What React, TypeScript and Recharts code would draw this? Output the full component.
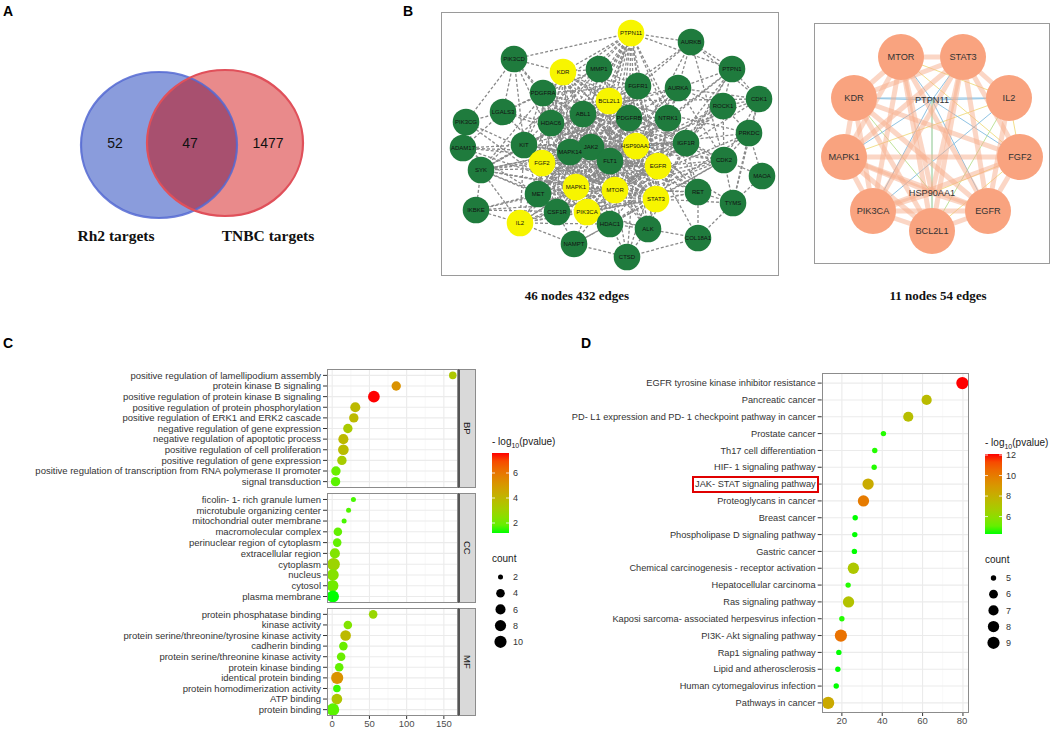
import React from 'react'
import { ScatterChart, Scatter, XAxis, YAxis, ReferenceLine } from 'recharts'

const SANS = '"Liberation Sans", Arial, sans-serif'
const SERIF = '"Liberation Serif", "Times New Roman", serif'

// ── A: Venn ──────────────────────────────────────────────────────────────────
const VENN_SETS = ['Rh2 targets', 'TNBC targets']
const VENN_COUNTS = [52, 47, 1477] // Rh2 only, shared, TNBC only

// ── B: PPI networks ──────────────────────────────────────────────────────────
const PPI_HUBS = ['PTPN11', 'KDR', 'BCL2L1', 'HSP90AA1', 'FGF2', 'EGFR', 'MAPK1', 'MTOR', 'STAT3', 'PIK3CA', 'IL2']
const PPI_EDGES = [
  'HSP90AA1: EGFR STAT3 MTOR PIK3CA MAPK1 BCL2L1 FGF2 KDR PTPN11 IL2 JAK2 FLT1 MAPK14 PDGFRB PDGFRA ABL1 KIT MET IGF1R NTRK1 CDK2 CDK1 AURKA AURKB HDAC1 HDAC6 ALK RET FGFR1 SYK CSF1R ROCK1 PRKDC PTPN1 MMP1 TYMS CTSD',
  'EGFR: STAT3 MTOR PIK3CA MAPK1 BCL2L1 FGF2 KDR PTPN11 IL2 JAK2 FLT1 MAPK14 PDGFRB PDGFRA ABL1 KIT MET IGF1R NTRK1 CDK2 AURKA HDAC1 HDAC6 ALK RET FGFR1 SYK CSF1R ROCK1 PTPN1 MMP1 LGALS3 ADAM17 COL18A1 CTSD',
  'STAT3: MTOR PIK3CA MAPK1 BCL2L1 FGF2 KDR PTPN11 IL2 JAK2 FLT1 MAPK14 PDGFRB PDGFRA ABL1 KIT MET IGF1R NTRK1 CDK2 HDAC1 HDAC6 ALK RET FGFR1 SYK CSF1R PTPN1 MMP1 IKBKE TYMS NAMPT',
  'MTOR: PIK3CA MAPK1 BCL2L1 FGF2 KDR PTPN11 IL2 JAK2 FLT1 MAPK14 PDGFRB ABL1 KIT MET IGF1R CDK2 AURKA HDAC1 HDAC6 ALK RET PIK3CD PIK3CG ROCK1 PRKDC NAMPT CTSD CDK1',
  'PIK3CA: MAPK1 BCL2L1 FGF2 KDR PTPN11 IL2 JAK2 FLT1 MAPK14 PDGFRB PDGFRA ABL1 KIT MET IGF1R NTRK1 CDK2 HDAC1 ALK RET FGFR1 SYK CSF1R PIK3CD PIK3CG IKBKE NAMPT',
  'MAPK1: BCL2L1 FGF2 KDR PTPN11 IL2 JAK2 FLT1 MAPK14 PDGFRB PDGFRA ABL1 KIT MET IGF1R NTRK1 CDK2 AURKA HDAC1 HDAC6 RET FGFR1 SYK CSF1R MMP1 ROCK1 LGALS3 ADAM17 IKBKE',
  'BCL2L1: FGF2 KDR PTPN11 IL2 JAK2 FLT1 MAPK14 ABL1 KIT MET IGF1R CDK2 CDK1 AURKA AURKB HDAC1 HDAC6 ALK FGFR1 SYK PRKDC',
  'FGF2: KDR PTPN11 IL2 JAK2 FLT1 MAPK14 PDGFRB PDGFRA ABL1 KIT MET IGF1R NTRK1 FGFR1 MMP1 CSF1R SYK',
  'KDR: PTPN11 JAK2 FLT1 MAPK14 PDGFRB PDGFRA ABL1 KIT MET IGF1R NTRK1 FGFR1 CSF1R SYK PIK3CD MMP1',
  'PTPN11: JAK2 FLT1 MAPK14 PDGFRB PDGFRA ABL1 KIT MET IGF1R NTRK1 FGFR1 CSF1R SYK AURKB PTPN1 PIK3CD',
  'IL2: JAK2 MAPK14 KIT CSF1R SYK IKBKE HDAC1 NAMPT',
  'JAK2: FLT1 MAPK14 PDGFRB PDGFRA ABL1 KIT MET IGF1R NTRK1 FGFR1 CSF1R SYK CDK2 HDAC1 HDAC6 ALK RET',
  'FLT1: MAPK14 PDGFRB PDGFRA ABL1 KIT MET IGF1R NTRK1 FGFR1 CSF1R ALK RET',
  'MAPK14: PDGFRB PDGFRA ABL1 KIT MET IGF1R HDAC6 SYK CSF1R MMP1 ADAM17',
  'PDGFRB: PDGFRA ABL1 KIT MET IGF1R NTRK1 FGFR1 CSF1R RET AURKA',
  'PDGFRA: ABL1 KIT MET FGFR1 CSF1R LGALS3 PIK3CD',
  'ABL1: KIT MET IGF1R NTRK1 FGFR1 CSF1R HDAC6 HDAC1 SYK CDK2 AURKA',
  'KIT: MET IGF1R CSF1R SYK FGFR1 ADAM17',
  'MET: IGF1R CSF1R FGFR1 SYK IKBKE ADAM17 ALK',
  'IGF1R: NTRK1 FGFR1 CDK2 RET ROCK1 PTPN1 ALK',
  'NTRK1: FGFR1 ALK RET AURKA PTPN1',
  'HDAC1: HDAC6 CDK2 NAMPT CTSD PRKDC ALK',
  'HDAC6: LGALS3 MMP1',
  'CDK2: CDK1 AURKA AURKB PRKDC TYMS MAOA ROCK1',
  'PIK3CD: PIK3CG LGALS3 KIT',
  'PIK3CG: ADAM17 LGALS3 SYK',
  'ADAM17: SYK LGALS3',
  'SYK: IKBKE',
  'NAMPT: CTSD CSF1R',
  'CTSD: ALK COL18A1',
  'COL18A1: ALK RET TYMS',
  'TYMS: RET PRKDC MAOA CDK1',
  'PRKDC: CDK1 ROCK1 MAOA',
  'CDK1: PTPN1 AURKB AURKA ROCK1',
  'PTPN1: AURKB ROCK1 AURKA',
  'AURKB: AURKA FGFR1',
  'ROCK1: AURKA',
  'MMP1: FGFR1 LGALS3',
]

const CORE_NODES = ['MTOR', 'STAT3', 'KDR', 'IL2', 'PTPN11', 'MAPK1', 'FGF2', 'PIK3CA', 'EGFR', 'BCL2L1', 'HSP90AA1']
const CORE_HIDDEN = ['PTPN11', 'HSP90AA1']
const CORE_STRONG = [
  'MTOR-STAT3', 'MTOR-KDR', 'MTOR-MAPK1', 'MTOR-PIK3CA', 'MTOR-EGFR', 'MTOR-BCL2L1', 'MTOR-HSP90AA1',
  'STAT3-KDR', 'STAT3-IL2', 'STAT3-MAPK1', 'STAT3-PIK3CA', 'STAT3-EGFR', 'STAT3-BCL2L1', 'STAT3-HSP90AA1', 'STAT3-FGF2',
  'KDR-MAPK1', 'KDR-FGF2', 'KDR-PIK3CA', 'KDR-EGFR', 'KDR-BCL2L1',
  'MAPK1-PIK3CA', 'MAPK1-EGFR', 'MAPK1-FGF2', 'MAPK1-BCL2L1', 'MAPK1-HSP90AA1',
  'FGF2-EGFR', 'FGF2-PIK3CA', 'PIK3CA-EGFR', 'PIK3CA-BCL2L1', 'PIK3CA-HSP90AA1',
  'EGFR-BCL2L1', 'EGFR-HSP90AA1', 'EGFR-IL2',
]
const CORE_WEAK = [
  'MTOR-IL2:y', 'MTOR-PTPN11:b', 'MTOR-FGF2:y', 'STAT3-PTPN11:b', 'KDR-IL2:b', 'KDR-PTPN11:b', 'KDR-HSP90AA1:g',
  'IL2-PTPN11:b', 'IL2-MAPK1:y', 'IL2-FGF2:y', 'IL2-PIK3CA:b', 'IL2-BCL2L1:g',
  'PTPN11-MAPK1:b', 'PTPN11-FGF2:b', 'PTPN11-PIK3CA:b', 'PTPN11-EGFR:b', 'PTPN11-BCL2L1:b', 'PTPN11-HSP90AA1:g',
  'FGF2-BCL2L1:y', 'FGF2-HSP90AA1:y', 'BCL2L1-HSP90AA1:g',
]

// ── C: GO enrichment ─────────────────────────────────────────────────────────
const BP_TERMS = [
  'positive regulation of lamellipodium assembly', 'protein kinase B signaling',
  'positive regulation of protein kinase B signaling', 'positive regulation of protein phosphorylation',
  'positive regulation of ERK1 and ERK2 cascade', 'negative regulation of gene expression',
  'negative regulation of apoptotic process', 'positive regulation of cell proliferation',
  'positive regulation of gene expression', 'positive regulation of transcription from RNA polymerase II promoter',
  'signal transduction',
]
const BP_X = [162, 86, 56, 31, 29, 21, 15, 15, 13, 5, 4.5]
const BP_P = [3.4, 5.2, 7.6, 3.9, 3.9, 3.3, 3.9, 3.8, 3.2, 1.9, 1.7]
const BP_COUNT = [3, 5, 9, 6, 5, 5, 6, 7, 5, 5, 5]

const CC_TERMS = [
  'ficolin- 1- rich granule lumen', 'microtubule organizing center', 'mitochondrial outer membrane',
  'macromolecular complex', 'perinuclear region of cytoplasm', 'extracellular region', 'cytoplasm',
  'nucleus', 'cytosol', 'plasma membrane',
]
const CC_X = [28.5, 22, 16, 7.6, 6.7, 3.6, 1.8, 0.9, 0.5, 0.9]
const CC_P = [1.5, 1.6, 1.5, 1.8, 1.8, 2.3, 2.9, 2.4, 2.0, 1.2]
const CC_COUNT = [2, 2, 2, 4, 4, 6, 11, 9, 9, 10]

const MF_TERMS = [
  'protein phosphatase binding', 'kinase activity', 'protein serine/threonine/tyrosine kinase activity',
  'cadherin binding', 'protein serine/threonine kinase activity', 'protein kinase binding',
  'identical protein binding', 'protein homodimerization activity', 'ATP binding', 'protein binding',
]
const MF_X = [55, 21, 18, 15, 12, 9.4, 6.7, 6.3, 6.3, 1]
const MF_P = [2.8, 2.3, 3.9, 1.9, 1.9, 1.8, 5.2, 1.4, 3.5, 1.7]
const MF_COUNT = [4, 4, 7, 4, 4, 4, 10, 3, 7, 11]

const GO_X_TICKS = [0, 50, 100, 150]
const GO_X_MINOR = [25, 75, 125]
const GO_P_BREAKS = [2, 4, 6]
const GO_COUNT_BREAKS = [2, 4, 6, 8, 10]

// ── D: KEGG enrichment ───────────────────────────────────────────────────────
const KEGG_TERMS = [
  'EGFR tyrosine kinase inhibitor resistance', 'Pancreatic cancer',
  'PD- L1 expression and PD- 1 checkpoint pathway in cancer', 'Prostate cancer', 'Th17 cell differentiation',
  'HIF- 1 signaling pathway', 'JAK- STAT signaling pathway', 'Proteoglycans in cancer', 'Breast cancer',
  'Phospholipase D signaling pathway', 'Gastric cancer', 'Chemical carcinogenesis -  receptor activation',
  'Hepatocellular carcinoma', 'Ras signaling pathway', 'Kaposi sarcoma- associated herpesvirus infection',
  'PI3K- Akt signaling pathway', 'Rap1 signaling pathway', 'Lipid and atherosclerosis',
  'Human cytomegalovirus infection', 'Pathways in cancer',
]
const KEGG_X = [79.7, 62, 52.9, 40.6, 36.3, 36, 33, 30.7, 26.6, 26.4, 26.2, 25.7, 23.1, 23.3, 20, 19.5, 18.5, 18, 17.2, 13.2]
const KEGG_P = [12.1, 7.5, 7.4, 4.4, 4.4, 4.4, 8.2, 10, 4.3, 4.3, 4.3, 7.0, 4.4, 7.2, 4.4, 10.3, 4.3, 4.3, 4.3, 8.3]
const KEGG_COUNT = [9, 7, 7, 5, 5, 5, 8, 8, 5, 5, 5, 8, 5, 8, 5, 9, 5, 5, 5, 9]
const KEGG_X_TICKS = [20, 40, 60, 80]
const KEGG_X_MINOR = [30, 50, 70]
const KEGG_P_BREAKS = [6, 8, 10, 12]
const KEGG_COUNT_BREAKS = [5, 6, 7, 8, 9]

// ── layout (px) ──────────────────────────────────────────────────────────────
const VENN_CENTRES = [[159, 145], [225, 143]]
const VENN_LABEL_X = [115, 190, 268]

const PPI_POS: Record<string, [number, number]> = {
  PTPN11: [190, 21], AURKB: [250, 30], PIK3CD: [73, 47], KDR: [122, 60], MMP1: [158, 57], PTPN1: [291, 57],
  FGFR1: [197, 74], AURKA: [237, 76], PDGFRA: [102, 81], BCL2L1: [168, 89], LGALS3: [62, 100], ABL1: [142, 102],
  PDGFRB: [188, 106], NTRK1: [227, 106], ROCK1: [282, 94], PIK3CG: [25, 110], HDAC6: [110, 111], JAK2: [150, 135],
  KIT: [83, 133], HSP90AA1: [195, 134], IGF1R: [245, 131], ADAM17: [22, 136], MAPK14: [129, 140], FGF2: [101, 151],
  FLT1: [169, 149], EGFR: [217, 154], CDK2: [283, 148], SYK: [40, 158], MAPK1: [135, 175], MTOR: [174, 178],
  MET: [97, 182], STAT3: [215, 187], RET: [257, 180], TYMS: [292, 191], CSF1R: [116, 200], PIK3CA: [146, 200],
  IKBKE: [35, 198], IL2: [79, 211], HDAC1: [169, 212], ALK: [207, 217], COL18A1: [257, 226], NAMPT: [133, 232],
  CTSD: [186, 245], CDK1: [318, 87], PRKDC: [308, 121], MAOA: [321, 164],
}
const CORE_POS: Record<string, [number, number]> = {
  MTOR: [87, 34], STAT3: [149, 34], KDR: [40, 75], IL2: [195, 75], PTPN11: [118, 77], MAPK1: [30, 134],
  FGF2: [206, 134], PIK3CA: [59, 188], EGFR: [174, 188], BCL2L1: [118, 208], HSP90AA1: [118, 170],
}

// ── colour / size scales (ggplot-like Lab gradient green → red) ──────────────
const hexRgb = (h: string) => [1, 3, 5].map((i) => parseInt(h.slice(i, i + 2), 16))
function rgbToLab(rgb: number[]) {
  const [r, g, b] = rgb.map((v) => { v /= 255; return v <= 0.04045 ? v / 12.92 : ((v + 0.055) / 1.055) ** 2.4 })
  const x = (0.4124 * r + 0.3576 * g + 0.1805 * b) / 0.95047
  const y = 0.2126 * r + 0.7152 * g + 0.0722 * b
  const z = (0.0193 * r + 0.1192 * g + 0.9505 * b) / 1.08883
  const f = (t: number) => (t > 0.008856 ? Math.cbrt(t) : 7.787 * t + 16 / 116)
  return [116 * f(y) - 16, 500 * (f(x) - f(y)), 200 * (f(y) - f(z))]
}
function labToHex([L, a, bb]: number[]) {
  const fy = (L + 16) / 116, fx = fy + a / 500, fz = fy - bb / 200
  const inv = (t: number) => (t ** 3 > 0.008856 ? t ** 3 : (t - 16 / 116) / 7.787)
  const x = inv(fx) * 0.95047, y = inv(fy), z = inv(fz) * 1.08883
  const lin = [
    3.2406 * x - 1.5372 * y - 0.4986 * z,
    -0.9689 * x + 1.8758 * y + 0.0415 * z,
    0.0557 * x - 0.204 * y + 1.057 * z,
  ]
  return '#' + lin.map((c) => {
    const v = c <= 0.0031308 ? 12.92 * c : 1.055 * Math.pow(Math.max(c, 0), 1 / 2.4) - 0.055
    return Math.round(Math.min(1, Math.max(0, v)) * 255).toString(16).padStart(2, '0')
  }).join('')
}
const LAB_LOW = rgbToLab(hexRgb('#00ff00'))
const LAB_HIGH = rgbToLab(hexRgb('#ff0000'))
const ramp = (t: number) => labToHex(LAB_LOW.map((v, i) => v + (LAB_HIGH[i] - v) * Math.min(1, Math.max(0, t))))

type Scale = { p: [number, number]; c: [number, number]; r: [number, number] }
const colourOf = (s: Scale, p: number) => ramp((p - s.p[0]) / (s.p[1] - s.p[0]))
const radiusOf = (s: Scale, c: number) => s.r[0] + (s.r[1] - s.r[0]) * Math.sqrt(Math.max(0, (c - s.c[0]) / (s.c[1] - s.c[0])))

const GO_ALL_P = [...BP_P, ...CC_P, ...MF_P]
const GO_ALL_C = [...BP_COUNT, ...CC_COUNT, ...MF_COUNT]
const GO_SCALE: Scale = { p: [Math.min(...GO_ALL_P), Math.max(...GO_ALL_P)], c: [Math.min(...GO_ALL_C), Math.max(...GO_ALL_C)], r: [2.5, 6.3] }
const KEGG_SCALE: Scale = { p: [Math.min(...KEGG_P), Math.max(...KEGG_P)], c: [Math.min(...KEGG_COUNT), Math.max(...KEGG_COUNT)], r: [2.7, 6.1] }

function parseEdges(rows: string[]) {
  const seen = new Set<string>()
  const out: [string, string][] = []
  rows.forEach((row) => {
    const [src, rest] = row.split(':')
    rest.trim().split(/\s+/).forEach((t) => {
      const key = [src.trim(), t].sort().join('|')
      if (!seen.has(key)) { seen.add(key); out.push([src.trim(), t]) }
    })
  })
  return out
}

// ── dot plot panel ───────────────────────────────────────────────────────────
interface DotProps {
  terms: string[]; xs: number[]; ps: number[]; counts: number[]
  left: number; plotLeft: number; plotRight: number; plotTop: number; plotBottom: number
  xDomain: [number, number]; xTicks: number[]; xMinor: number[]; axisH: number; scale: Scale; font: number
}
function DotPanel(d: DotProps) {
  const n = d.terms.length
  const data = d.terms.map((t, i) => ({ x: d.xs[i], y: i, p: d.ps[i], c: d.counts[i] }))
  const width = d.plotRight - d.left + 1
  const height = 1 + (d.plotBottom - d.plotTop) + d.axisH
  return (
    <>
      <div style={{ position: 'absolute', left: d.left, top: d.plotTop - 1 }}>
        <ScatterChart width={width} height={height} margin={{ top: 1, right: 1, bottom: 0, left: 0 }}>
          <XAxis
            type="number" dataKey="x" domain={d.xDomain} ticks={d.xTicks} allowDataOverflow
            hide={d.axisH === 0} height={d.axisH} axisLine={false} tickSize={3} tickMargin={1}
            tickLine={{ stroke: '#333' }}
            tick={(t: any) => (
              <text x={t.x} y={t.y} dy="0.71em" textAnchor="middle" fontSize={9.5} fill="#4d4d4d" fontFamily={SANS}>
                {t.payload.value}
              </text>
            )}
          />
          <YAxis
            type="number" dataKey="y" domain={[-0.6, n - 0.4]} reversed allowDataOverflow
            ticks={d.terms.map((_, i) => i)} interval={0}
            width={d.plotLeft - d.left} axisLine={false} tickSize={4} tickMargin={2}
            tickLine={{ stroke: '#333' }}
            tick={(t: any) => (
              <text x={t.x} y={t.y} dy="0.35em" textAnchor="end" fontSize={d.font} fill="#333" fontFamily={SANS}>
                {d.terms[t.payload.value]}
              </text>
            )}
          />
          {d.xMinor.map((v) => <ReferenceLine key={'m' + v} x={v} stroke="#f3f3f3" strokeWidth={0.6} />)}
          {d.xTicks.map((v) => <ReferenceLine key={'M' + v} x={v} stroke="#ebebeb" strokeWidth={1.1} />)}
          {d.terms.map((_, i) => <ReferenceLine key={'y' + i} y={i} stroke="#ebebeb" strokeWidth={1.1} />)}
          <Scatter
            data={data} isAnimationActive={false}
            shape={(p: any) => (
              <circle cx={p.cx} cy={p.cy} r={radiusOf(d.scale, p.payload.c)} fill={colourOf(d.scale, p.payload.p)} />
            )}
          />
        </ScatterChart>
      </div>
      <div style={{
        position: 'absolute', left: d.plotLeft, top: d.plotTop, width: d.plotRight - d.plotLeft,
        height: d.plotBottom - d.plotTop, border: '1px solid #8c8c8c', boxSizing: 'border-box', pointerEvents: 'none',
      }} />
    </>
  )
}

function Strip({ label, left, top, bottom }: { label: string; left: number; top: number; bottom: number }) {
  return (
    <div style={{
      position: 'absolute', left, top, width: 18, height: bottom - top, background: '#d9d9d9',
      borderLeft: '2px solid #555', borderTop: '1px solid #8c8c8c', borderRight: '1px solid #8c8c8c',
      borderBottom: '1px solid #8c8c8c', boxSizing: 'border-box', display: 'flex', alignItems: 'center',
      justifyContent: 'center',
    }}>
      <span style={{ writingMode: 'vertical-rl', fontFamily: SANS, fontSize: 9.5, color: '#1a1a1a' }}>{label}</span>
    </div>
  )
}

function Legends({ left, top, scale, pBreaks, cBreaks }: { left: number; top: number; scale: Scale; pBreaks: number[]; cBreaks: number[] }) {
  const barH = 80, barW = 17, pad = 6
  const stops = Array.from({ length: 11 }, (_, i) => i / 10)
  const yOf = (v: number) => pad + barH - ((v - scale.p[0]) / (scale.p[1] - scale.p[0])) * barH
  const gid = 'g' + left
  return (
    <div style={{ position: 'absolute', left, top, fontFamily: SANS, color: '#1a1a1a' }}>
      <div style={{ position: 'absolute', left: 0, top: 0, fontSize: 10, whiteSpace: 'nowrap' }}>
        - log<sub style={{ fontSize: 7 }}>10</sub>(pvalue)
      </div>
      <svg style={{ position: 'absolute', left: 0, top: 17 - pad }} width={40} height={barH + 2 * pad}>
        <defs>
          <linearGradient id={gid} x1="0" y1="1" x2="0" y2="0">
            {stops.map((t) => <stop key={t} offset={t} stopColor={ramp(t)} />)}
          </linearGradient>
        </defs>
        <rect x={0} y={pad} width={barW} height={barH} fill={`url(#${gid})`} />
        {pBreaks.map((b) => (
          <g key={b}>
            <line x1={0} x2={3} y1={yOf(b)} y2={yOf(b)} stroke="#fff" strokeWidth={0.8} />
            <line x1={barW - 3} x2={barW} y1={yOf(b)} y2={yOf(b)} stroke="#fff" strokeWidth={0.8} />
            <text x={barW + 4} y={yOf(b)} dy="0.35em" fontSize={9} fill="#333" fontFamily={SANS}>{b}</text>
          </g>
        ))}
      </svg>
      <div style={{ position: 'absolute', left: 0, top: 117, fontSize: 10 }}>count</div>
      <svg style={{ position: 'absolute', left: 0, top: 132 }} width={40} height={90}>
        {cBreaks.map((c, i) => (
          <g key={c}>
            <circle cx={8.5} cy={9 + i * 16.2} r={radiusOf(scale, c)} fill="#000" />
            <text x={21} y={9 + i * 16.2} dy="0.35em" fontSize={9} fill="#333" fontFamily={SANS}>{c}</text>
          </g>
        ))}
      </svg>
    </div>
  )
}

// ── networks ─────────────────────────────────────────────────────────────────
function PpiNetwork() {
  const edges = parseEdges(PPI_EDGES)
  const nodes = Object.keys(PPI_POS).map((name) => ({ x: PPI_POS[name][0], y: PPI_POS[name][1], name, hub: PPI_HUBS.includes(name) }))
  return (
    <ScatterChart width={338} height={264} margin={{ top: 0, right: 0, bottom: 0, left: 0 }}>
      <XAxis type="number" dataKey="x" domain={[0, 338]} hide />
      <YAxis type="number" dataKey="y" domain={[0, 264]} reversed hide />
      {edges.map(([a, b], i) => (
        <ReferenceLine
          key={i} ifOverflow="visible" stroke="#8a8a8a" strokeWidth={1.3} strokeDasharray="3 2"
          segment={[{ x: PPI_POS[a][0], y: PPI_POS[a][1] }, { x: PPI_POS[b][0], y: PPI_POS[b][1] }]}
        />
      ))}
      <Scatter
        data={nodes} isAnimationActive={false}
        shape={(p: any) => (
          <g>
            <circle cx={p.cx} cy={p.cy} r={13.3} fill={p.payload.hub ? '#f7f500' : '#1f7b3d'} />
            <text x={p.cx} y={p.cy} dy="0.35em" textAnchor="middle" fontSize={6} fontFamily={SANS} fill="#111">
              {p.payload.name}
            </text>
          </g>
        )}
      />
    </ScatterChart>
  )
}

const WEAK_COLOURS: Record<string, string> = { b: '#8fc3e3', y: '#f1df8c', g: '#bfe39a' }

function CoreNetwork() {
  const strong = CORE_STRONG.map((e) => e.split('-'))
  const weak = CORE_WEAK.map((e) => { const [pair, c] = e.split(':'); return [...pair.split('-'), c] })
  const nodes = CORE_NODES.map((name) => ({ x: CORE_POS[name][0], y: CORE_POS[name][1], name, hidden: CORE_HIDDEN.includes(name) }))
  const seg = (a: string, b: string) => [{ x: CORE_POS[a][0], y: CORE_POS[a][1] }, { x: CORE_POS[b][0], y: CORE_POS[b][1] }]
  return (
    <ScatterChart width={236} height={241} margin={{ top: 0, right: 0, bottom: 0, left: 0 }}>
      <XAxis type="number" dataKey="x" domain={[0, 236]} hide />
      <YAxis type="number" dataKey="y" domain={[0, 241]} reversed hide />
      {weak.map(([a, b, c], i) => (
        <ReferenceLine key={'w' + i} ifOverflow="visible" segment={seg(a, b)} stroke={WEAK_COLOURS[c]} strokeWidth={1} />
      ))}
      {strong.map(([a, b], i) => (
        <ReferenceLine key={'s' + i} ifOverflow="visible" segment={seg(a, b)} stroke="#f7ad8c" strokeOpacity={0.5} strokeWidth={5} />
      ))}
      <Scatter
        data={nodes} isAnimationActive={false}
        shape={(p: any) => (
          <g>
            {!p.payload.hidden && <circle cx={p.cx} cy={p.cy} r={23} fill="#f9a37f" />}
            <text x={p.cx} y={p.cy} dy="0.35em" textAnchor="middle" fontSize={9.2} fontFamily={SANS} fill="#333">
              {p.payload.name}
            </text>
          </g>
        )}
      />
    </ScatterChart>
  )
}

function Venn() {
  const circles = VENN_CENTRES.map(([x, y], i) => ({ x, y, i }))
  const labels = VENN_COUNTS.map((v, i) => ({ x: VENN_LABEL_X[i], y: 143, v }))
  return (
    <ScatterChart width={330} height={230} margin={{ top: 0, right: 0, bottom: 0, left: 0 }}>
      <XAxis type="number" dataKey="x" domain={[0, 330]} hide />
      <YAxis type="number" dataKey="y" domain={[0, 230]} reversed hide />
      <Scatter
        data={circles} isAnimationActive={false}
        shape={(p: any) => p.payload.i === 0 ? (
          <g>
            <defs><ellipse id="venn-a" cx={p.cx} cy={p.cy} rx={78} ry={73} /></defs>
            <use href="#venn-a" fill="#8a9cdc" />
          </g>
        ) : (
          <g>
            <defs>
              <ellipse id="venn-b" cx={p.cx} cy={p.cy} rx={78} ry={73} />
              <clipPath id="venn-clip"><use href="#venn-a" /></clipPath>
            </defs>
            <use href="#venn-b" fill="#e98a8b" />
            <use href="#venn-b" fill="#a8506f" clipPath="url(#venn-clip)" />
            <use href="#venn-a" fill="none" stroke="#5468d2" strokeOpacity={0.85} strokeWidth={2.2} />
            <use href="#venn-b" fill="none" stroke="#e0505a" strokeWidth={2.2} />
          </g>
        )}
      />
      <Scatter
        data={labels} isAnimationActive={false}
        shape={(p: any) => (
          <text x={p.cx} y={p.cy} dy="0.35em" textAnchor="middle" fontSize={14} fontFamily={SANS} fill="#111">{p.payload.v}</text>
        )}
      />
    </ScatterChart>
  )
}

const abs = (left: number, top: number, extra: React.CSSProperties = {}): React.CSSProperties => ({ position: 'absolute', left, top, ...extra })
const panelLetter: React.CSSProperties = { fontFamily: SANS, fontWeight: 700, fontSize: 14, color: '#000' }
const caption = (size: number): React.CSSProperties => ({ fontFamily: SERIF, fontWeight: 700, fontSize: size, color: '#111', whiteSpace: 'nowrap', transform: 'translate(-50%, -50%)' })

export default function App() {
  return (
    <div style={{ position: 'absolute', left: 0, top: 0, width: 1052, height: 731, background: '#fff', overflow: 'hidden' }}>
      {/* A */}
      <div style={abs(3, 3, panelLetter)}>A</div>
      <div style={abs(0, 0)}><Venn /></div>
      <div style={abs(116, 236, caption(15.5))}>{VENN_SETS[0]}</div>
      <div style={abs(268, 236, caption(15.5))}>{VENN_SETS[1]}</div>

      {/* B */}
      <div style={abs(403, 3, panelLetter)}>B</div>
      <div style={abs(441, 12, { width: 338, height: 264, border: '1.2px solid #9a9a9a', boxSizing: 'border-box' })} />
      <div style={abs(441, 12)}><PpiNetwork /></div>
      <div style={abs(814, 23, { width: 236, height: 241, border: '1.2px solid #9a9a9a', boxSizing: 'border-box' })} />
      <div style={abs(814, 23)}><CoreNetwork /></div>
      <div style={abs(577, 296, caption(13))}>46 nodes 432 edges</div>
      <div style={abs(938, 296, caption(13))}>11 nodes 54 edges</div>

      {/* C */}
      <div style={abs(3, 335, panelLetter)}>C</div>
      <DotPanel terms={BP_TERMS} xs={BP_X} ps={BP_P} counts={BP_COUNT} left={0} plotLeft={327} plotRight={458} font={9.5}
        plotTop={369} plotBottom={488} xDomain={[-7, 169]} xTicks={GO_X_TICKS} xMinor={GO_X_MINOR} axisH={0} scale={GO_SCALE} />
      <DotPanel terms={CC_TERMS} xs={CC_X} ps={CC_P} counts={CC_COUNT} left={0} plotLeft={327} plotRight={458} font={9.5}
        plotTop={493} plotBottom={603} xDomain={[-7, 169]} xTicks={GO_X_TICKS} xMinor={GO_X_MINOR} axisH={0} scale={GO_SCALE} />
      <DotPanel terms={MF_TERMS} xs={MF_X} ps={MF_P} counts={MF_COUNT} left={0} plotLeft={327} plotRight={458} font={9.5}
        plotTop={608} plotBottom={716} xDomain={[-7, 169]} xTicks={GO_X_TICKS} xMinor={GO_X_MINOR} axisH={14} scale={GO_SCALE} />
      <Strip label="BP" left={458} top={369} bottom={488} />
      <Strip label="CC" left={458} top={493} bottom={603} />
      <Strip label="MF" left={458} top={608} bottom={716} />
      <Legends left={492} top={436} scale={GO_SCALE} pBreaks={GO_P_BREAKS} cBreaks={GO_COUNT_BREAKS} />

      {/* D */}
      <div style={abs(581, 335, panelLetter)}>D</div>
      <DotPanel terms={KEGG_TERMS} xs={KEGG_X} ps={KEGG_P} counts={KEGG_COUNT} left={560} plotLeft={821.7} plotRight={969} font={9.25}
        plotTop={372.7} plotBottom={712.7} xDomain={[10, 83]} xTicks={KEGG_X_TICKS} xMinor={KEGG_X_MINOR} axisH={18.3} scale={KEGG_SCALE} />
      <div style={abs(691.7, 476, { width: 127.6, height: 16.7, border: '2px solid #e00000', boxSizing: 'border-box' })} />
      <Legends left={985} top={437} scale={KEGG_SCALE} pBreaks={KEGG_P_BREAKS} cBreaks={KEGG_COUNT_BREAKS} />
    </div>
  )
}
